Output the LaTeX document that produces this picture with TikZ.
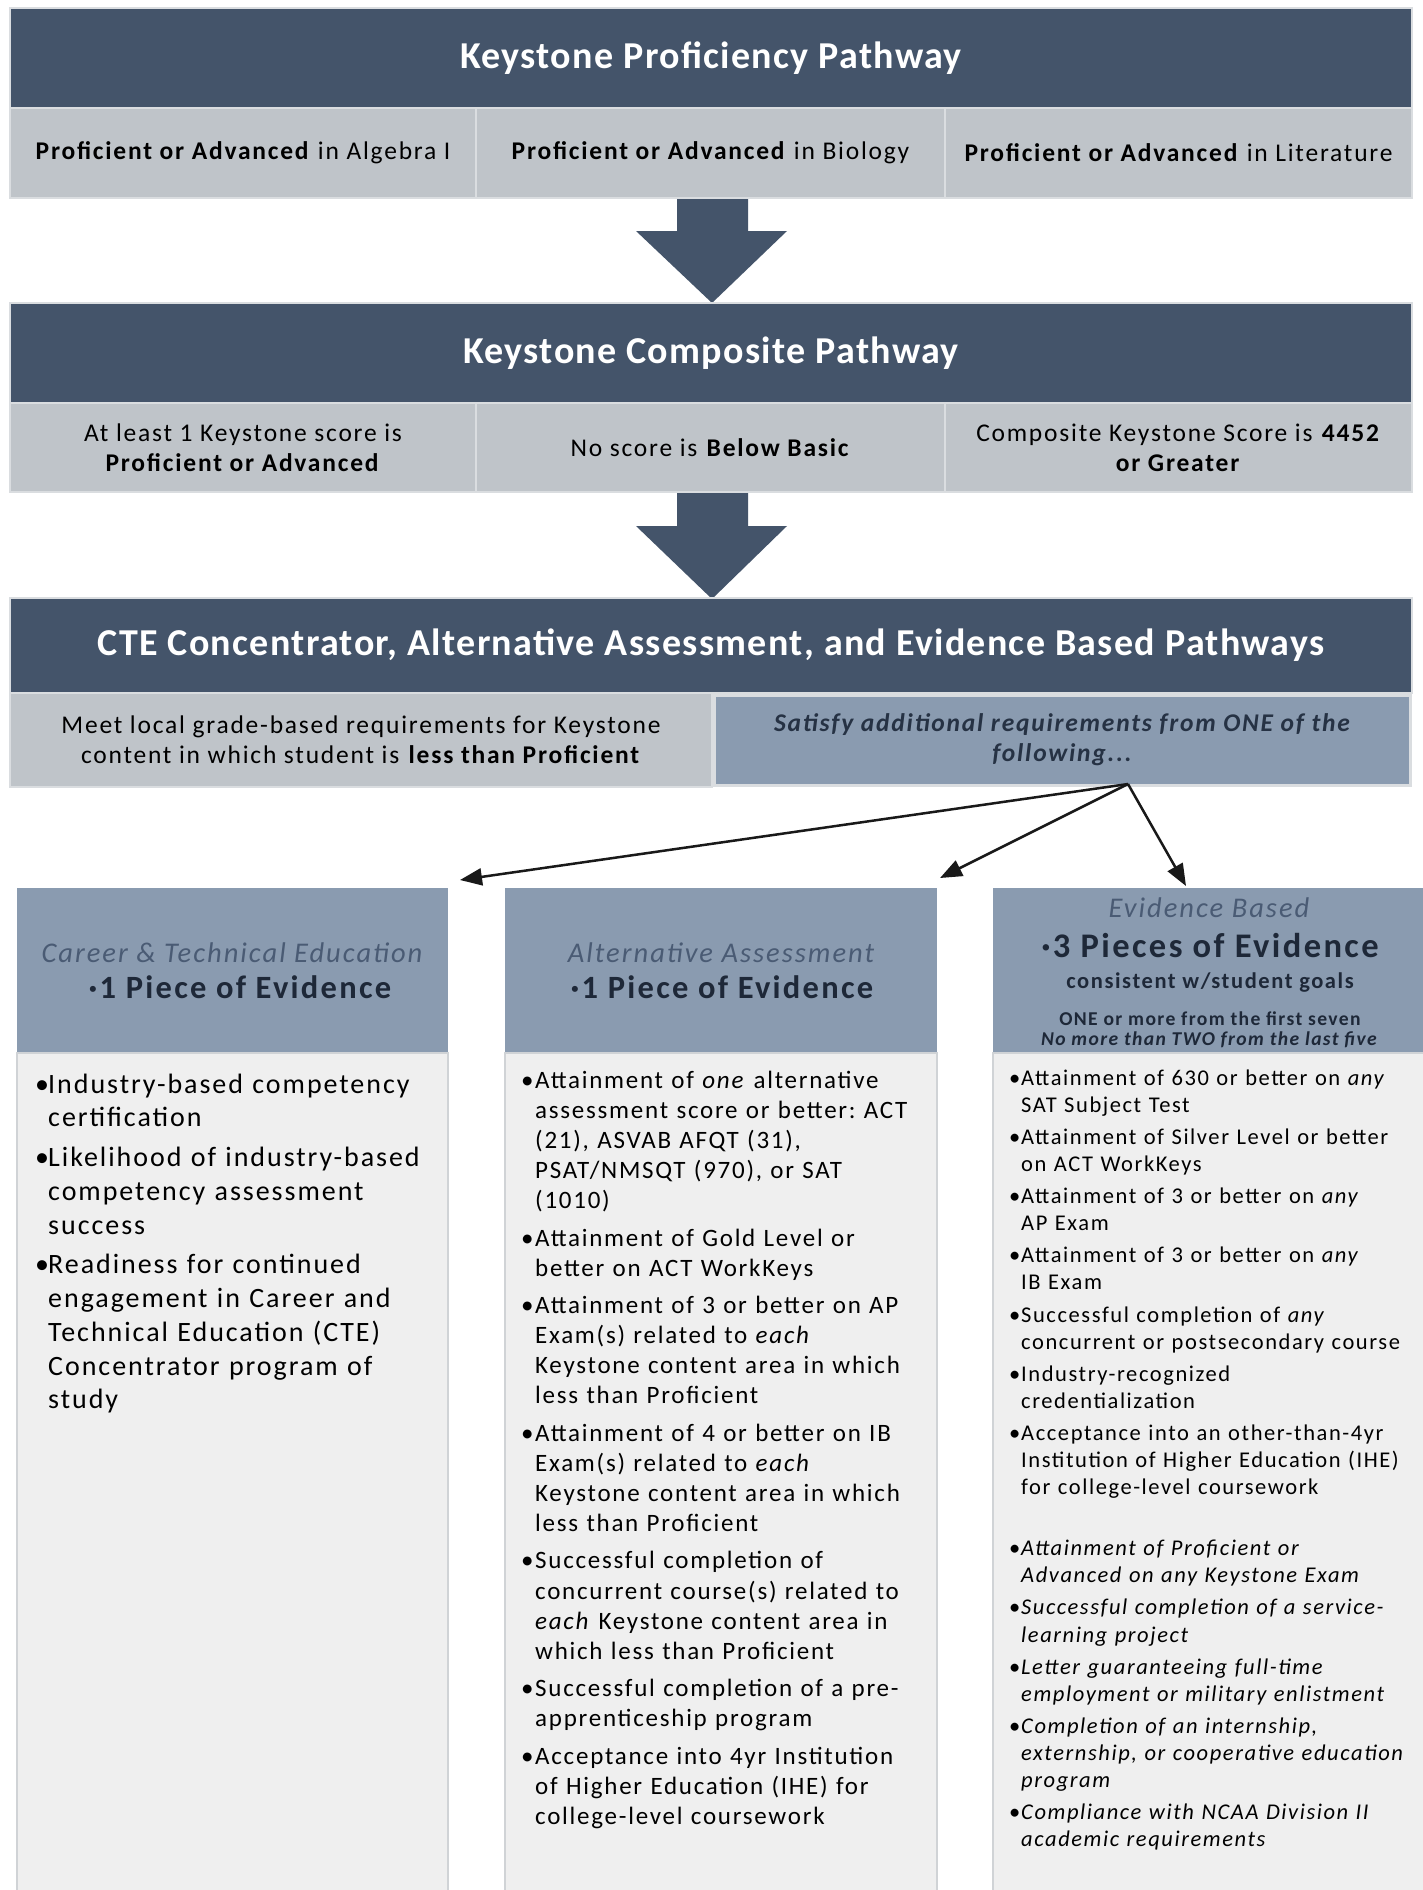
\documentclass[tikz,border=0pt]{standalone}
\usepackage{fontspec}
\setmainfont{Carlito}[LetterSpace=7]
\newfontfamily\titlefamily{Carlito}[LetterSpace=3.5]
\usetikzlibrary{arrows.meta}
\definecolor{dark}{HTML}{44546A}
\definecolor{rowgray}{HTML}{BFC4C9}
\definecolor{bluegray}{HTML}{8A9BB0}
\definecolor{bodygray}{HTML}{EFEFEF}
\definecolor{cellline}{HTML}{DADDE0}
\definecolor{bodyline}{HTML}{D0D3D6}
\definecolor{navy}{HTML}{1E2838}
\definecolor{slate}{HTML}{4A5B74}
\definecolor{sattext}{HTML}{263244}
\newlength\bw
\newlength\bgap
\newcommand\bulA[1]{\hangindent=\bw\hangafter=1\noindent\makebox[\bw][l]{\textbullet}#1\par}
\newcommand\bul[1]{\vskip\bgap\bulA{#1}}
\newcommand\bx[7]{%
  \pgfmathsetmacro\cx{(#2+#4)/2}\pgfmathsetmacro\cy{(#3+#5)/2}%
  \pgfmathsetmacro\ww{#4-#2}\pgfmathsetmacro\hh{#5-#3}%
  \node[#6, minimum width=\ww pt, minimum height=\hh pt] (#1) at (\cx,\cy) {#7};}
\newcommand\titlefont{\titlefamily\fontsize{38}{45}\selectfont\bfseries}
\newcommand\rowfont{\fontsize{25.5}{30}\selectfont}
\frenchspacing
\begin{document}
\begin{tikzpicture}[x=1pt,y=-1pt,
  titlebar/.style={fill=dark, draw=cellline, line width=1.5pt, inner sep=0pt, text=white, font=\titlefont},
  rowcell/.style={fill=rowgray, draw=cellline, line width=2pt, inner sep=0pt, align=center, font=\rowfont, text=black},
  satcell/.style={fill=bluegray, draw=cellline, line width=3pt, inner sep=0pt, align=center, font=\rowfont\bfseries\itshape, text=sattext},
  hdr/.style={fill=bluegray, draw=none, inner sep=0pt},
  bodybox/.style={fill=bodygray, draw=bodyline, line width=2pt, inner sep=0pt},
  colit/.style={anchor=base, inner sep=0pt, text=slate, font=\fontsize{28.5}{34}\selectfont\itshape},
  colbig/.style={anchor=base, inner sep=0pt, text=navy, font=\fontsize{32.5}{38}\selectfont\bfseries},
  colsmall/.style={anchor=base, inner sep=0pt, text=navy},
  bodytext/.style={anchor=north west, inner sep=0pt, align=left, text=black, text width=410pt},
  conn/.style={draw=black!90, line width=2.5pt, -{Triangle[length=22pt,width=17pt]}},
  blockarrow/.style={fill=dark, draw=none}
]
\useasboundingbox (0,0) rectangle (1422,1890);
\fill[white] (0,0) rectangle (1422,1890);

% ---------- Keystone Proficiency Pathway
\bx{h1}{10}{8}{1412}{108}{titlebar}{Keystone Proficiency Pathway}
\bx{r1a}{10}{108}{476}{198}{rowcell}{\textbf{Proficient or Advanced} in Algebra I}
\bx{r1b}{476}{108}{945}{198}{rowcell}{\textbf{Proficient or Advanced} in Biology}
\bx{r1c}{945}{108}{1412}{198}{rowcell}{\textbf{Proficient or Advanced} in Literature}

\fill[blockarrow] (677,199) -- (748,199) -- (748,231) -- (787,231) -- (712,303) -- (636,231) -- (677,231) -- cycle;

% ---------- Keystone Composite Pathway
\bx{h2}{10}{303}{1412}{403}{titlebar}{Keystone Composite Pathway}
\bx{r2a}{10}{403}{476}{492}{rowcell}{At least 1 Keystone score is\\\textbf{Proficient or Advanced}}
\bx{r2b}{476}{403}{945}{492}{rowcell}{No score is \textbf{Below Basic}}
\bx{r2c}{945}{403}{1412}{492}{rowcell}{Composite Keystone Score is \textbf{4452}\\\textbf{or Greater}}

\fill[blockarrow] (677,493) -- (748,493) -- (748,526) -- (787,526) -- (712,599) -- (636,526) -- (677,526) -- cycle;

% ---------- CTE / Alternative / Evidence
\bx{h3}{10}{598}{1412}{693}{titlebar}{CTE Concentrator, Alternative Assessment, and Evidence Based Pathways}
\bx{r3a}{10}{693}{712}{787}{rowcell}{Meet local grade-based requirements for Keystone\\content in which student is \textbf{less than Proficient}}
\bx{sat}{714}{695}{1410}{785}{satcell}{Satisfy additional requirements from ONE of the\\following...}

% ---------- connectors
\coordinate (src) at (1128,784);
\coordinate (tL) at (460,880);
\coordinate (tM) at (940,878);
\coordinate (tR) at (1186,886);
\draw[conn] (src) -- (tL);
\draw[conn] (src) -- (tM);
\draw[conn] (src) -- (tR);

% ---------- column boxes
\bx{hL}{17}{888}{448}{1052}{hdr}{}
\bx{bL}{17}{1053}{448}{1900}{bodybox}{}
\bx{hM}{505}{888}{937}{1052}{hdr}{}
\bx{bM}{505}{1053}{937}{1900}{bodybox}{}
\bx{hR}{993}{888}{1424}{1052}{hdr}{}
\bx{bR}{993}{1053}{1424}{1900}{bodybox}{}

% ---------- column headings
\node[colit] (hLa) at (232,962) {Career \& Technical Education};
\node[colbig] (hLb) at (240,998) {·1 Piece of Evidence};
\node[colit] (hMa) at (721,962) {Alternative Assessment};
\node[colbig] (hMb) at (722,998) {·1 Piece of Evidence};
\node[colit] (hRa) at (1209,917) {Evidence Based};
\node[colbig, font=\fontsize{34.5}{40}\selectfont\bfseries] (hRb) at (1210,957) {·3 Pieces of Evidence};
\node[colsmall, font=\fontsize{22.5}{27}\selectfont\bfseries] (hRc) at (1210,988) {consistent w/student goals};
\node[colsmall, font=\fontsize{19.6}{24}\selectfont\bfseries] (hRd) at (1210,1025) {ONE or more from the first seven};
\node[colsmall, font=\fontsize{19.6}{24}\selectfont\bfseries\itshape] (hRe) at (1209,1045) {No more than TWO from the last five};

% ---------- column bodies
\node[bodytext, font=\fontsize{28}{33.7}\selectfont] (tL1) at (35,1071) {%
\setlength\bw{13pt}\setlength\bgap{6.1pt}\setlength\parskip{0pt}%
\bulA{\rule{0pt}{22pt}Industry-based competency\newline certification}
\bul{Likelihood of industry-based\newline competency assessment\newline success}
\bul{Readiness for continued\newline engagement in Career and\newline Technical Education (CTE)\newline Concentrator program of\newline study}};

\node[bodytext, font=\fontsize{25}{30.1}\selectfont] (tM1) at (521,1068) {%
\setlength\bw{14pt}\setlength\bgap{7.3pt}\setlength\parskip{0pt}%
\bulA{\rule{0pt}{20pt}Attainment of \textit{one} alternative\newline assessment score or better: ACT\newline (21), ASVAB AFQT (31),\newline PSAT/NMSQT (970), or SAT\newline (1010)}
\bul{Attainment of Gold Level or\newline better on ACT WorkKeys}
\bul{Attainment of 3 or better on AP\newline Exam(s) related to \textit{each}\newline Keystone content area in which\newline less than Proficient}
\bul{Attainment of 4 or better on IB\newline Exam(s) related to \textit{each}\newline Keystone content area in which\newline less than Proficient}
\bul{Successful completion of\newline concurrent course(s) related to\newline \textit{each} Keystone content area in\newline which less than Proficient}
\bul{Successful completion of a pre-\newline apprenticeship program}
\bul{Acceptance into 4yr Institution\newline of Higher Education (IHE) for\newline college-level coursework}};

\node[bodytext, font=\fontsize{22.5}{27.1}\selectfont] (tR1) at (1009,1066) {%
\setlength\bw{12pt}\setlength\bgap{5pt}\setlength\parskip{0pt}%
\bulA{\rule{0pt}{19pt}Attainment of 630 or better on \textit{any}\newline SAT Subject Test}
\bul{Attainment of Silver Level or better\newline on ACT WorkKeys}
\bul{Attainment of 3 or better on \textit{any}\newline AP Exam}
\bul{Attainment of 3 or better on \textit{any}\newline IB Exam}
\bul{Successful completion of \textit{any}\newline concurrent or postsecondary course}
\bul{Industry-recognized\newline credentialization}
\bul{Acceptance into an other-than-4yr\newline Institution of Higher Education (IHE)\newline for college-level coursework}
\vskip 29pt
\bul{\textit{Attainment of Proficient or\newline Advanced on any Keystone Exam}}
\bul{\textit{Successful completion of a service-\newline learning project}}
\bul{\textit{Letter guaranteeing full-time\newline employment or military enlistment}}
\bul{\textit{Completion of an internship,\newline externship, or cooperative education\newline program}}
\bul{\textit{Compliance with NCAA Division II\newline academic requirements}}};
\end{tikzpicture}
\end{document}
